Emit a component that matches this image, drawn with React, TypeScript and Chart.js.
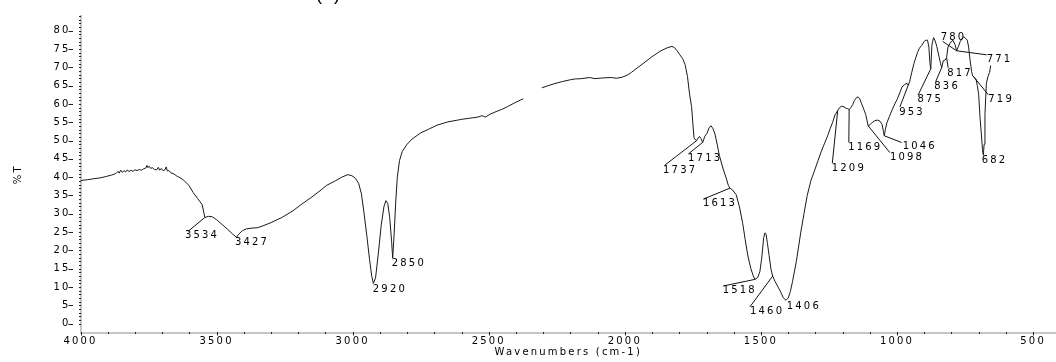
import React, { useEffect, useRef } from 'react';
import { Chart, registerables } from 'chart.js';

Chart.register(...registerables);

// ---- spectrum data (wavenumber in cm-1, transmittance in %T) ----
const wavenumbers: number[] = [
  4000, 3975, 3950, 3928, 3905, 3885, 3870, 3862, 3858, 3852, 3846, 3840, 3834, 3828, 3822, 3815, 3808, 3800, 3792, 3784,
  3776, 3768, 3760, 3756, 3752, 3748, 3742, 3736, 3728, 3720, 3714, 3709, 3703, 3697, 3690, 3685, 3681, 3675, 3668, 3660,
  3652, 3644, 3635, 3623, 3612, 3602, 3586, 3570, 3553, 3543, 3530, 3516, 3500, 3480, 3460, 3440, 3427, 3418, 3405, 3390,
  3370, 3350, 3330, 3300, 3260, 3220, 3186, 3150, 3120, 3095, 3066, 3040, 3018, 3003, 2990, 2978, 2968, 2958, 2948, 2938,
  2930, 2924, 2916, 2906, 2895, 2885, 2878, 2871, 2864, 2857, 2853, 2848, 2842, 2836, 2828, 2818, 2800, 2782, 2750, 2721,
  2690, 2650, 2620, 2599, 2570, 2540, 2525, 2512, 2495, 2470, 2452, 2430, 2405, 2385, 2373, 2340, 2305, 2285, 2260, 2230,
  2200, 2185, 2160, 2130, 2110, 2080, 2050, 2030, 2010, 1990, 1976, 1955, 1930, 1900, 1870, 1845, 1827, 1818, 1808, 1798,
  1788, 1779, 1770, 1762, 1755, 1750, 1746, 1741, 1736, 1731, 1726, 1721, 1714, 1706, 1698, 1690, 1683, 1676, 1669, 1661,
  1653, 1640, 1628, 1620, 1614, 1604, 1591, 1579, 1567, 1558, 1548, 1537, 1528, 1522, 1512, 1504, 1497, 1490, 1485, 1481,
  1476, 1470, 1463, 1457, 1448, 1437, 1427, 1418, 1408, 1400, 1392, 1384, 1370, 1354, 1342, 1330, 1316, 1304, 1290, 1279,
  1266, 1255, 1246, 1237, 1228, 1218, 1211, 1203, 1195, 1187, 1181, 1176, 1170, 1163, 1156, 1148, 1143, 1137, 1131, 1122,
  1115, 1106, 1098, 1090, 1082, 1072, 1063, 1055, 1050, 1047, 1043, 1037, 1028, 1018, 1008, 1000, 990, 982, 972, 963,
  959, 954, 946, 938, 933, 925, 918, 909, 900, 894, 888, 883, 879, 876, 872, 866, 860, 854, 846, 840,
  836, 830, 823, 818, 813, 805, 795, 787, 781, 775, 768, 760, 755, 748, 742, 737, 732, 726, 722, 716,
  710, 705, 700, 695, 690, 686, 683, 680, 677, 672, 666, 660, 656,
];

const transmittance: (number | null)[] = [
  39.1, 39.3, 39.6, 39.8, 40.2, 40.6, 41.0, 41.6, 41.1, 41.9, 41.3, 41.8, 41.4, 42.0, 41.5, 41.9, 41.6, 42.0, 41.8, 42.1,
  41.9, 42.3, 42.5, 43.2, 42.6, 43.0, 42.4, 42.6, 42.1, 42.0, 42.7, 41.9, 42.4, 41.8, 42.0, 42.8, 41.7, 41.8, 41.2, 41.0,
  40.6, 40.2, 39.9, 39.3, 38.5, 37.8, 35.8, 34.2, 32.5, 29.0, 29.3, 29.2, 28.4, 27.1, 25.8, 24.4, 23.6, 24.5, 25.4, 25.9,
  26.1, 26.2, 26.7, 27.6, 29.0, 30.8, 32.7, 34.6, 36.3, 37.8, 38.9, 40.0, 40.7, 40.4, 39.7, 38.3, 35.5, 30.0, 24.0, 17.5,
  13.0, 11.0, 12.5, 19.0, 27.0, 32.0, 33.6, 32.8, 29.0, 22.5, 17.9, 24.0, 33.0, 40.0, 44.5, 47.0, 49.0, 50.4, 52.1, 53.1,
  54.2, 55.1, 55.5, 55.8, 56.1, 56.4, 56.8, 56.4, 57.2, 58.0, 58.5, 59.3, 60.3, 61.0, 61.4, null, 64.4, 64.9, 65.5, 66.1,
  66.6, 66.8, 66.9, 67.2, 66.9, 67.1, 67.2, 67.0, 67.3, 67.9, 68.6, 69.8, 71.2, 72.9, 74.4, 75.3, 75.7, 75.4, 74.5, 73.4,
  72.4, 70.8, 67.5, 62.5, 59.3, 54.5, 50.8, 50.2, 50.0, 50.7, 51.1, 50.6, 49.5, 51.2, 52.0, 53.6, 54.0, 53.2, 51.8, 49.0,
  46.0, 42.5, 39.8, 37.8, 37.0, 36.5, 35.2, 31.9, 27.4, 23.0, 18.5, 15.0, 13.0, 12.1, 12.6, 14.2, 18.0, 23.5, 24.8, 24.3,
  21.8, 18.6, 14.8, 13.0, 11.5, 10.0, 8.6, 7.1, 6.4, 7.0, 8.8, 11.5, 17.0, 24.8, 30.0, 35.0, 39.2, 41.6, 44.6, 46.9,
  49.3, 51.3, 53.2, 54.9, 57.0, 58.2, 59.0, 59.4, 59.2, 58.8, 58.7, 58.4, 59.0, 59.8, 61.0, 61.8, 61.9, 61.4, 60.2, 58.5,
  57.1, 54.0, 54.4, 55.0, 55.4, 55.6, 55.3, 54.4, 52.5, 51.3, 53.0, 54.9, 56.6, 58.4, 60.0, 61.2, 63.0, 64.6, 65.3, 65.6,
  65.1, 66.0, 68.6, 71.0, 72.2, 74.0, 75.2, 76.0, 77.1, 77.4, 77.4, 75.5, 71.0, 69.6, 76.0, 78.1, 77.2, 75.7, 73.0, 71.0,
  69.9, 71.8, 72.0, 72.6, 75.5, 76.6, 77.4, 76.2, 74.5, 75.6, 77.0, 78.0, 78.3, 77.9, 77.4, 75.5, 72.1, 68.8, 67.7, 67.2,
  66.8, 65.0, 62.5, 56.2, 51.5, 47.5, 46.0, 49.0, 57.1, 65.5, 67.5, 68.6, 70.5,
];

// ---- axis ticks ----
const xTickValues: number[] = [4000, 3500, 3000, 2500, 2000, 1500, 1000, 500];
const yTickValues: number[] = [0, 5, 10, 15, 20, 25, 30, 35, 40, 45, 50, 55, 60, 65, 70, 75, 80];

// ---- peak annotations ----
const peakLabels: string[] = [
  '3534', '3427', '2920', '2850', '1737', '1713', '1613', '1518', '1460', '1406', '1209',
  '1169', '1098', '1046', '953', '875', '836', '817', '780', '771', '719', '682',
];
const peakWavenumbers: number[] = [
  3543, 3429, 2924, 2853, 1736, 1714, 1614, 1522, 1457, 1408, 1218,
  1176, 1106, 1047, 959, 876, 836, 818, 781, 781, 722, 683,
];
const peakTransmittance: number[] = [
  29.0, 23.6, 11.0, 17.9, 50.0, 49.5, 37.0, 12.1, 13.0, 6.4, 58.2,
  58.4, 54.0, 51.3, 65.1, 69.6, 69.9, 72.6, 74.5, 74.5, 67.7, 46.0,
];

// label placement (pixel offsets from the peak point): leader end, text start
const labelLayout: { lead: [number, number] | null; text: [number, number] }[] = [
  { lead: [-17, 14], text: [-20, 18] },
  { lead: null, text: [-1, 5.5] },
  { lead: null, text: [-0.6, 5.5] },
  { lead: null, text: [-1, 4.8] },
  { lead: [-31.7, 24.5], text: [-33.7, 30] },
  { lead: [-14.4, 11.6], text: [-14.7, 16.3] },
  { lead: [-26.7, 11], text: [-27, 15.5] },
  { lead: [-31.7, 6.6], text: [-32.3, 11.3] },
  { lead: [-22.7, 30.7], text: [-22.7, 35.2] },
  { lead: null, text: [0.7, 5.7] },
  { lead: [-5.4, 52.7], text: [-6, 58] },
  { lead: [-0.3, 32.7], text: [-1, 37.7] },
  { lead: [21.7, 26.7], text: [21.7, 32] },
  { lead: [17.4, 6.7], text: [18.4, 11] },
  { lead: [-8.3, 21.7], text: [-9, 26.7] },
  { lead: [-12.7, 26.3], text: [-13.3, 31] },
  { lead: [-6, 14], text: [-7.4, 19] },
  { lead: [1.6, 10], text: [0.6, 15.5] },
  { lead: [-14, -9.4], text: [-16, -13.2] },
  { lead: [30, 4], text: [30, 8.3] },
  { lead: [15.6, 19], text: [15.6, 23.7] },
  { lead: null, text: [-1.6, 5.3] },
];

const FONT = '"DejaVu Sans", sans-serif';
const FONT_SIZE = 10;
const SPACING = '2.2px';

const decorPlugin = {
  id: 'irDecor',
  beforeDraw(chart: any) {
    (chart.ctx as any).letterSpacing = SPACING;
  },
  afterDraw(chart: any) {
    const ctx = chart.ctx as CanvasRenderingContext2D;
    const x = chart.scales.x;
    const y = chart.scales.y;
    const area = chart.chartArea;
    ctx.save();
    ctx.strokeStyle = '#222';
    ctx.lineWidth = 1;
    // x minor/major ticks
    for (let w = 4000; w >= 500; w -= 100) {
      const px = Math.round(x.getPixelForValue(w)) + 0.5;
      const major = w % 500 === 0;
      ctx.beginPath();
      ctx.moveTo(px, area.bottom - 0.5);
      ctx.lineTo(px, area.bottom + (major ? 3 : 1.5));
      ctx.stroke();
    }
    // y minor/major ticks
    for (let v = 0; v <= 84; v += 1) {
      const py = Math.round(y.getPixelForValue(v)) + 0.5;
      ctx.beginPath();
      ctx.moveTo(area.left - 1.5, py);
      ctx.lineTo(area.left + 0.5, py);
      ctx.stroke();
      if (v % 5 === 0) {
        ctx.beginPath();
        ctx.moveTo(area.left - 12, py);
        ctx.lineTo(area.left - 7.5, py);
        ctx.stroke();
      }
    }
    // peak labels
    ctx.font = `${FONT_SIZE}px ${FONT}`;
    (ctx as any).letterSpacing = SPACING;
    ctx.fillStyle = '#000';
    ctx.textAlign = 'left';
    ctx.textBaseline = 'middle';
    ctx.strokeStyle = '#111';
    peakLabels.forEach((label, i) => {
      const ax = x.getPixelForValue(peakWavenumbers[i]);
      const ay = y.getPixelForValue(peakTransmittance[i]);
      const lay = labelLayout[i];
      if (lay.lead) {
        ctx.beginPath();
        ctx.moveTo(ax, ay);
        ctx.lineTo(ax + lay.lead[0], ay + lay.lead[1]);
        ctx.stroke();
      }
      ctx.fillText(label, ax + lay.text[0], ay + lay.text[1]);
    });
    // clipped panel caption at the top edge
    (ctx as any).letterSpacing = '1px';
    ctx.font = '18px "Liberation Sans", sans-serif';
    ctx.textBaseline = 'alphabetic';
    ctx.fillText('(a)', 316, 0);
    ctx.restore();
  },
};

export default function App() {
  const ref = useRef<HTMLCanvasElement | null>(null);

  useEffect(() => {
    if (!ref.current) return;
    const points = wavenumbers.map((w, i) => ({ x: w, y: transmittance[i] }));
    const chart = new Chart(ref.current, {
      type: 'line',
      data: {
        datasets: [
          {
            data: points as any,
            borderColor: '#1a1a1a',
            borderWidth: 1,
            pointRadius: 0,
            tension: 0,
            spanGaps: false,
            fill: false,
          },
        ],
      },
      options: {
        responsive: false,
        animation: false,
        events: [],
        layout: { padding: { top: 7, left: 0, right: 0, bottom: 0 } },
        plugins: { legend: { display: false }, tooltip: { enabled: false }, title: { display: false } },
        scales: {
          x: {
            type: 'linear',
            reverse: true,
            min: 416,
            max: 4000,
            afterBuildTicks: (scale: any) => {
              scale.ticks = xTickValues.map((v) => ({ value: v }));
            },
            afterFit: (scale: any) => {
              scale.height = 29.5;
            },
            grid: { display: false, drawTicks: false },
            border: { display: true, color: '#c6c6c6', width: 2 },
            ticks: {
              autoSkip: false,
              maxRotation: 0,
              padding: 3,
              color: '#000',
              font: { family: FONT, size: FONT_SIZE },
              callback: (v: any) => String(v),
            },
            title: {
              display: true,
              text: 'Wavenumbers (cm-1)',
              color: '#000',
              font: { family: FONT, size: FONT_SIZE },
              padding: { top: 0, bottom: 3.2 },
            },
          },
          y: {
            type: 'linear',
            min: -2.4,
            max: 84,
            afterBuildTicks: (scale: any) => {
              scale.ticks = yTickValues.map((v) => ({ value: v }));
            },
            afterFit: (scale: any) => {
              scale.width = 80.5;
            },
            grid: { display: false, drawTicks: false },
            border: { display: true, color: '#c6c6c6', width: 2 },
            ticks: {
              padding: 10,
              color: '#000',
              font: { family: FONT, size: FONT_SIZE },
              callback: (v: any) => String(v),
            },
            title: {
              display: true,
              text: '%T',
              color: '#000',
              font: { family: FONT, size: FONT_SIZE },
              padding: { top: 12, bottom: 0 },
            },
          },
        },
      },
      plugins: [decorPlugin],
    });
    return () => chart.destroy();
  }, []);

  return (
    <div style={{ position: 'absolute', left: 0, top: 0, width: 1056, height: 362, background: '#fff' }}>
      <canvas ref={ref} width={1056} height={362} style={{ display: 'block', width: 1056, height: 362 }} />
    </div>
  );
}
